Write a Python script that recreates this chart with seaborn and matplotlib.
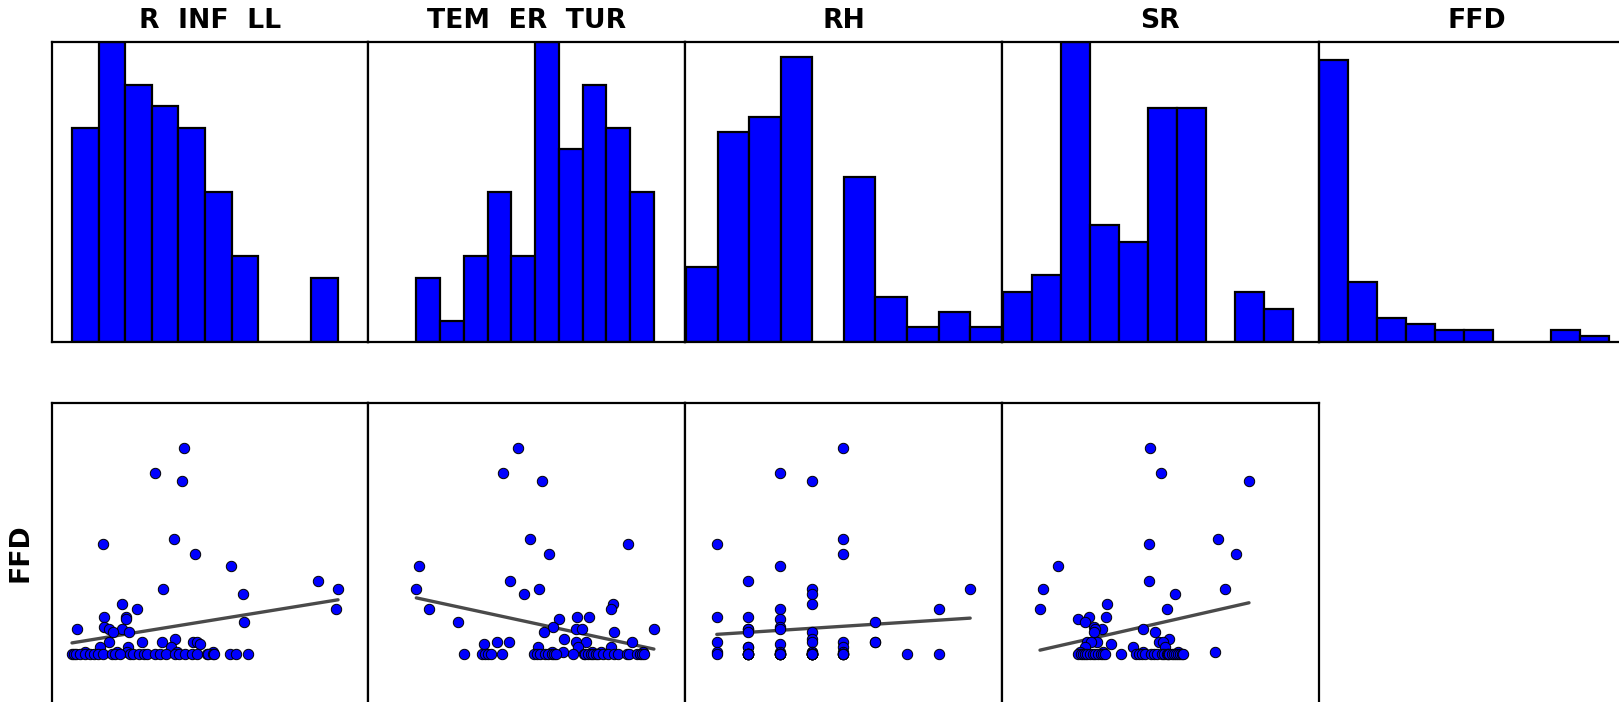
import matplotlib
matplotlib.use("Agg")
import matplotlib.pyplot as plt
import pandas as pd
import seaborn as sns

# Column headings
COLUMNS = ["R  INF  LL", "TEM  ER  TUR", "RH", "SR", "FFD"]

# Observations (one entry per sample, same order in every list)
FFD = [100.0, 87.9, 84.1, 56.1, 53.7, 48.9, 42.9, 35.4, 31.7, 31.7,
       29.3, 24.4, 22.0, 22.0, 18.3, 18.3, 17.1, 15.9, 13.4, 12.1,
       12.1, 12.1, 11.0, 11.0, 7.3, 6.1, 6.1, 6.1, 6.1, 6.1,
       4.9, 3.7, 3.7, 3.7, 1.3, 1.3, 1.3, 1.3, 1.3,
       0.0, 0.0, 0.0, 0.0, 0.0, 0.0, 0.0, 0.0, 0.0, 0.0,
       0.0, 0.0, 0.0, 0.0, 0.0, 0.0, 0.0, 0.0, 0.0, 0.0,
       0.0, 0.0, 0.0, 0.0, 0.0, 0.0, 0.0, 0.0, 0.0, 0.0,
       0.0, 0.0]

R_INF_LL = [42.1, 31.3, 41.5, 38.3, 11.8, 46.4, 59.8, 92.4, 34.3, 100.0,
            64.3, 18.9, 24.5, 99.4, 11.9, 20.2, 20.3, 64.5, 12.1, 1.8,
            13.9, 18.9, 15.3, 21.5, 38.7, 13.9, 26.2, 33.7, 45.4, 46.9,
            48.1, 10.5, 21.1, 37.2, 4.9, 16.8, 20.6, 39.4, 52.9,
            0.0, 0.8, 1.5, 3.0, 4.9, 6.8, 8.2, 9.6, 11.5, 14.9,
            16.0, 18.0, 21.8, 23.0, 25.3, 27.0, 28.3, 31.2, 33.0, 35.3,
            38.7, 40.3, 42.5, 45.0, 47.1, 50.6, 51.2, 52.9, 53.5, 59.4,
            61.7, 66.1]

TEM_ER_TUR = [42.9, 36.6, 52.8, 48.0, 88.9, 55.9, 1.3, 39.3, 0.0, 51.8,
              45.5, 82.6, 5.5, 81.9, 67.5, 72.5, 60.1, 17.4, 57.4, 100.0,
              67.2, 69.9, 83.3, 53.9, 62.3, 33.8, 39.1, 67.2, 71.4, 90.9,
              28.5, 51.3, 67.9, 81.8, 57.0, 61.6, 73.8, 77.6, 95.5,
              20.1, 27.8, 28.9, 30.3, 31.4, 36.2, 49.7, 50.7, 52.0, 54.2,
              55.6, 57.0, 58.0, 58.8, 65.8, 70.4, 71.0, 72.4, 73.5, 74.5,
              75.6, 76.6, 78.5, 80.8, 83.0, 85.0, 88.5, 89.6, 92.8, 94.0,
              94.9, 96.0]

RH = [5, 3, 4, 5, 1, 5, 3, 2, 4, 9,
      4, 4, 3, 8, 1, 2, 3, 6, 3, 2,
      2, 3, 2, 4, 4, 1, 4, 5, 6, 6,
      3, 2, 5, 2, 1, 3, 4, 5, 4,
      1, 2, 2, 2, 2, 2, 2, 2, 3, 3,
      3, 3, 3, 3, 3, 4, 4, 4, 4, 4,
      4, 4, 4, 4, 4, 5, 5, 5, 5, 5,
      7, 8]

SR = [52.6, 58.1, 100.0, 85.3, 52.0, 93.8, 8.5, 52.0, 1.6, 88.4,
      64.8, 31.9, 0.0, 60.6, 23.4, 31.6, 18.3, 21.5, 25.8, 49.4,
      29.5, 26.5, 25.8, 55.0, 61.9, 22.3, 27.1, 57.1, 59.0, 24.5,
      33.8, 44.3, 59.8, 21.5, 19.1, 30.3, 49.1, 66.2, 83.7,
      18.3, 19.5, 20.4, 21.5, 22.6, 24.0, 25.2, 26.5, 27.9, 29.0,
      30.3, 31.1, 38.6, 45.9, 47.5, 48.7, 50.2, 52.9, 54.5, 56.1,
      58.2, 59.2, 60.6, 61.2, 61.9, 63.0, 64.1, 65.0, 66.2, 67.0,
      67.8, 68.5]

df = pd.DataFrame({
    COLUMNS[0]: R_INF_LL,
    COLUMNS[1]: TEM_ER_TUR,
    COLUMNS[2]: RH,
    COLUMNS[3]: SR,
    COLUMNS[4]: FFD,
})

sns.set_style("white")
plt.rcParams["font.family"] = ["DejaVu Sans"]
plt.rcParams["text.color"] = "black"
plt.rcParams["axes.labelcolor"] = "black"

W, H = 1619, 702
fig = plt.figure(figsize=(W / 100, H / 100), dpi=100)
gs = fig.add_gridspec(2, 5, left=51.6 / W, right=1635.35 / W,
                      top=1 - 41.7 / H, bottom=1 - 703.3 / H,
                      wspace=0, hspace=61 / 300.3)

hist_xlim = [(-7.67, 111.4), (-20.18, 113.13), (0.977, 9.004),
             (-0.29, 108.9), (0.0, 109.2)]
hist_ylim = [14, 14, 20, 18, 50]
scatter_xlim = [(-7.67, 111.4), (-20.18, 113.13), (0.0, 10.0),
                (-18.25, 133.3)]

SPINE_LW = 1.6
LABEL_SIZE = 19.2


def frame(ax):
    ax.set_xticks([])
    ax.set_yticks([])
    ax.set_xlabel("")
    ax.set_ylabel("")
    for sp in ax.spines.values():
        sp.set_visible(True)
        sp.set_color("black")
        sp.set_linewidth(SPINE_LW)


# Top row: distribution of every variable
for j, col in enumerate(COLUMNS):
    ax = fig.add_subplot(gs[0, j])
    sns.histplot(data=df, x=col, bins=10, discrete=False, ax=ax,
                 color="#0000ff", edgecolor="black", linewidth=1.6,
                 alpha=1.0)
    ax.set_xlim(*hist_xlim[j])
    ax.set_ylim(0, hist_ylim[j])
    frame(ax)
    ax.set_title(col, fontsize=LABEL_SIZE, fontweight="bold", pad=10,
                 color="black")

# Bottom row: FFD against each predictor, with a linear fit
for j, col in enumerate(COLUMNS[:4]):
    ax = fig.add_subplot(gs[1, j])
    sns.regplot(data=df, x=col, y="FFD", ax=ax, ci=None,
                scatter_kws=dict(color="#0000ff", edgecolors="black",
                                 linewidths=0.7, s=56, alpha=1.0, zorder=3),
                line_kws=dict(color="#4a4a4a", lw=2.4, zorder=2))
    ax.set_xlim(*scatter_xlim[j])
    ax.set_ylim(-23.8, 122.0)
    frame(ax)
    if j == 0:
        ax.set_ylabel("FFD", fontsize=LABEL_SIZE, fontweight="bold",
                      labelpad=13, color="black")

ax_empty = fig.add_subplot(gs[1, 4])
ax_empty.axis("off")

fig.savefig("out.png", dpi=100)
